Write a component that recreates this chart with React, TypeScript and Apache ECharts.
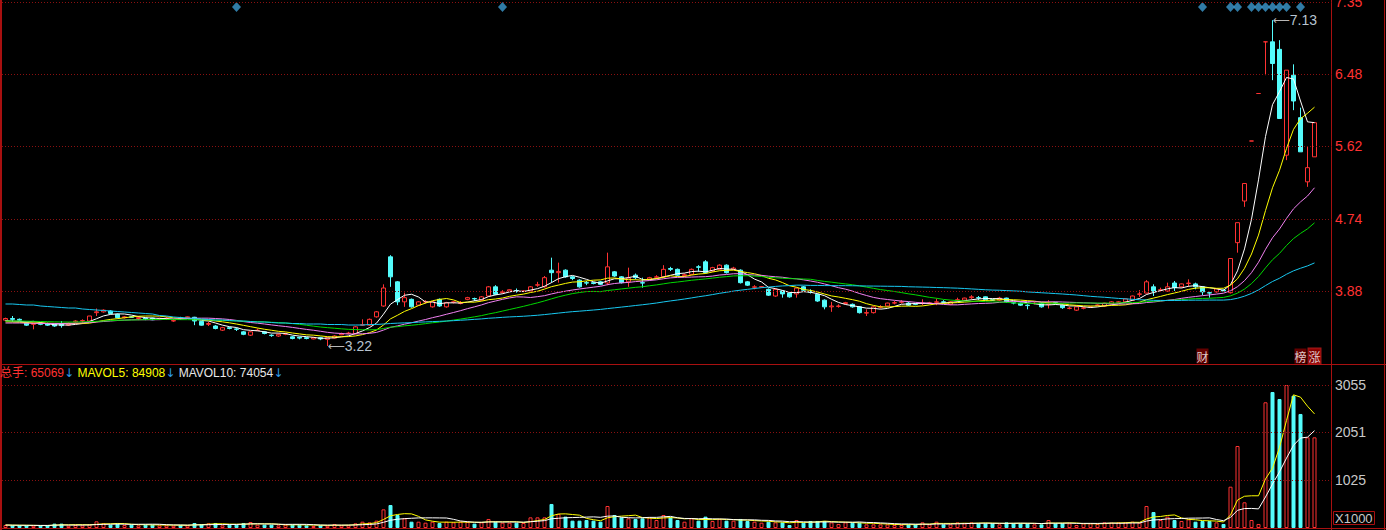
import React, { useEffect, useRef } from 'react';
import * as echarts from 'echarts';

// ---------- data ----------
const opens = [
  3.53, 3.55, 3.54, 3.50, 3.48, 3.49, 3.49, 3.48, 3.48, 3.47,
  3.51, 3.52, 3.52, 3.62, 3.63, 3.64, 3.60, 3.56, 3.57, 3.55,
  3.555, 3.555, 3.548, 3.55, 3.52, 3.56, 3.56, 3.565, 3.515, 3.48,
  3.46, 3.41, 3.44, 3.425, 3.39, 3.35, 3.405, 3.39, 3.35, 3.34,
  3.362, 3.33, 3.325, 3.32, 3.305, 3.32, 3.30, 3.315, 3.355, 3.37,
  3.37, 3.47, 3.47, 3.57, 3.70, 4.29, 3.99, 3.75, 3.78, 3.71,
  3.748, 3.69, 3.78, 3.69, 3.745, 3.73, 3.78, 3.79, 3.77, 3.82,
  3.93, 3.86, 3.88, 3.885, 3.875, 3.88, 3.95, 3.93, 4.13, 4.10,
  4.13, 4.05, 4.01, 3.98, 3.98, 3.99, 3.976, 4.11, 4.05, 3.99,
  4.07, 3.98, 4.02, 4.045, 4.05, 4.15, 4.14, 4.065, 4.08, 4.17,
  4.23, 4.12, 4.14, 4.19, 4.14, 4.13, 3.99, 3.925, 3.928, 3.90,
  3.82, 3.88, 3.855, 3.845, 3.93, 3.87, 3.84, 3.77, 3.69, 3.695,
  3.73, 3.72, 3.69, 3.615, 3.62, 3.685, 3.70, 3.735, 3.745, 3.735,
  3.725, 3.73, 3.733, 3.745, 3.75, 3.72, 3.77, 3.77, 3.80, 3.80,
  3.81, 3.775, 3.77, 3.795, 3.74, 3.735, 3.71, 3.73, 3.735, 3.72,
  3.74, 3.71, 3.67, 3.65, 3.673, 3.685, 3.708, 3.70, 3.725, 3.745,
  3.75, 3.77, 3.84, 3.855, 3.93, 3.89, 3.88, 3.976, 3.93, 3.97,
  3.965, 3.93, 3.86, 3.87, 3.89, 3.86, 4.46, 4.96, 5.68, 6.25,
  6.87, 6.87, 6.78, 5.51, 6.47, 5.96, 5.19, 5.49,
];
const closes = [
  3.55, 3.54, 3.53, 3.47, 3.49, 3.48, 3.47, 3.46, 3.465, 3.48,
  3.52, 3.525, 3.58, 3.63, 3.65, 3.61, 3.56, 3.57, 3.565, 3.56,
  3.545, 3.535, 3.552, 3.555, 3.525, 3.55, 3.57, 3.52, 3.47, 3.49,
  3.43, 3.44, 3.43, 3.42, 3.36, 3.39, 3.41, 3.37, 3.345, 3.36,
  3.366, 3.31, 3.315, 3.31, 3.32, 3.305, 3.32, 3.34, 3.365, 3.375,
  3.45, 3.475, 3.54, 3.63, 3.916, 4.05, 3.75, 3.80, 3.69, 3.75,
  3.752, 3.75, 3.70, 3.74, 3.75, 3.74, 3.80, 3.785, 3.81, 3.93,
  3.84, 3.87, 3.895, 3.88, 3.88, 3.93, 3.955, 4.04, 4.10, 4.115,
  4.05, 4.03, 3.93, 3.975, 3.97, 3.96, 4.17, 4.06, 3.98, 4.035,
  4.04, 3.975, 4.04, 4.05, 4.14, 4.14, 4.07, 4.075, 4.14, 4.165,
  4.10, 4.16, 4.19, 4.10, 4.155, 3.98, 3.95, 3.93, 3.932, 3.83,
  3.90, 3.845, 3.81, 3.915, 3.89, 3.865, 3.76, 3.69, 3.70, 3.70,
  3.74, 3.69, 3.62, 3.62, 3.69, 3.69, 3.735, 3.74, 3.75, 3.71,
  3.72, 3.735, 3.737, 3.75, 3.745, 3.75, 3.775, 3.795, 3.81, 3.795,
  3.775, 3.77, 3.795, 3.75, 3.735, 3.71, 3.705, 3.735, 3.69, 3.725,
  3.735, 3.68, 3.675, 3.69, 3.677, 3.69, 3.712, 3.735, 3.75, 3.75,
  3.785, 3.82, 3.845, 3.99, 3.87, 3.895, 3.93, 3.92, 3.965, 3.975,
  3.93, 3.87, 3.855, 3.905, 3.88, 4.27, 4.70, 5.17, 5.68, 6.25,
  6.87, 6.61, 5.95, 6.53, 6.16, 5.55, 5.36, 5.90,
];
const lows = [
  3.52, 3.51, 3.52, 3.46, 3.42, 3.47, 3.46, 3.45, 3.44, 3.46,
  3.50, 3.49, 3.52, 3.58, 3.62, 3.60, 3.55, 3.55, 3.56, 3.53,
  3.53, 3.53, 3.54, 3.54, 3.51, 3.54, 3.55, 3.47, 3.465, 3.46,
  3.42, 3.40, 3.42, 3.40, 3.35, 3.34, 3.40, 3.36, 3.33, 3.33,
  3.35, 3.30, 3.30, 3.30, 3.30, 3.29, 3.22, 3.31, 3.35, 3.36,
  3.36, 3.46, 3.46, 3.56, 3.69, 3.93, 3.71, 3.69, 3.68, 3.70,
  3.73, 3.68, 3.69, 3.68, 3.73, 3.72, 3.77, 3.76, 3.76, 3.81,
  3.83, 3.85, 3.87, 3.86, 3.87, 3.87, 3.93, 3.92, 3.98, 3.98,
  4.04, 4.01, 3.92, 3.95, 3.96, 3.95, 3.95, 4.05, 3.97, 3.93,
  4.02, 3.92, 4.01, 4.03, 4.04, 4.12, 4.06, 4.05, 4.07, 4.11,
  4.09, 4.11, 4.13, 4.09, 4.13, 3.97, 3.94, 3.90, 3.92, 3.82,
  3.81, 3.80, 3.80, 3.80, 3.88, 3.85, 3.75, 3.66, 3.63, 3.68,
  3.72, 3.68, 3.61, 3.58, 3.61, 3.67, 3.69, 3.72, 3.73, 3.70,
  3.71, 3.71, 3.72, 3.71, 3.73, 3.71, 3.75, 3.76, 3.78, 3.77,
  3.77, 3.76, 3.76, 3.74, 3.72, 3.70, 3.66, 3.72, 3.68, 3.67,
  3.72, 3.665, 3.66, 3.64, 3.66, 3.68, 3.70, 3.69, 3.72, 3.74,
  3.74, 3.76, 3.81, 3.85, 3.82, 3.87, 3.87, 3.88, 3.92, 3.93,
  3.90, 3.83, 3.80, 3.86, 3.87, 3.85, 4.34, 4.89, 5.68, 6.25,
  6.47, 6.41, 5.95, 5.45, 6.05, 5.55, 5.13, 5.49,
];
const highs = [
  3.56, 3.58, 3.55, 3.51, 3.50, 3.50, 3.50, 3.49, 3.52, 3.50,
  3.53, 3.54, 3.58, 3.67, 3.66, 3.65, 3.61, 3.58, 3.58, 3.58,
  3.56, 3.56, 3.56, 3.57, 3.53, 3.57, 3.575, 3.57, 3.52, 3.51,
  3.47, 3.45, 3.45, 3.44, 3.40, 3.40, 3.43, 3.40, 3.36, 3.37,
  3.38, 3.34, 3.33, 3.33, 3.33, 3.33, 3.33, 3.35, 3.38, 3.39,
  3.46, 3.54, 3.55, 3.64, 3.96, 4.31, 4.00, 3.86, 3.79, 3.76,
  3.77, 3.76, 3.79, 3.75, 3.76, 3.76, 3.81, 3.80, 3.82, 3.94,
  3.95, 3.89, 3.90, 3.91, 3.89, 3.94, 3.99, 4.06, 4.28, 4.22,
  4.14, 4.06, 4.02, 4.00, 3.99, 4.00, 4.34, 4.12, 4.06, 4.16,
  4.09, 4.04, 4.05, 4.07, 4.19, 4.17, 4.15, 4.09, 4.15, 4.19,
  4.25, 4.17, 4.20, 4.20, 4.17, 4.14, 4.00, 3.95, 3.94, 3.91,
  3.91, 3.89, 3.86, 3.92, 3.94, 3.90, 3.85, 3.78, 3.75, 3.72,
  3.75, 3.73, 3.70, 3.66, 3.70, 3.71, 3.74, 3.76, 3.77, 3.75,
  3.73, 3.78, 3.75, 3.79, 3.77, 3.76, 3.80, 3.80, 3.83, 3.82,
  3.815, 3.78, 3.81, 3.80, 3.75, 3.74, 3.72, 3.75, 3.74, 3.77,
  3.75, 3.72, 3.69, 3.70, 3.69, 3.70, 3.72, 3.74, 3.76, 3.76,
  3.79, 3.825, 3.89, 4.01, 3.96, 3.92, 3.98, 4.00, 3.97, 4.02,
  3.98, 3.94, 3.87, 3.91, 3.90, 4.27, 4.70, 5.17, 5.68, 6.25,
  6.87, 7.13, 6.89, 6.53, 6.60, 6.08, 5.61, 5.90,
];
// volume in the axis unit (X1000)
const volumes = [
  64, 57, 55, 55, 50, 50, 55, 93, 93, 50,
  64, 57, 78, 143, 100, 71, 93, 64, 71, 57,
  71, 71, 57, 57, 50, 64, 57, 107, 78, 100,
  107, 57, 71, 71, 107, 128, 71, 71, 71, 57,
  71, 71, 71, 57, 43, 57, 50, 85, 57, 57,
  100, 135, 121, 157, 399, 492, 278, 207, 135, 135,
  114, 135, 107, 135, 121, 135, 128, 93, 121, 193,
  135, 114, 114, 114, 107, 228, 228, 228, 514, 300,
  243, 157, 157, 171, 157, 135, 471, 278, 228, 207,
  193, 207, 228, 171, 278, 228, 171, 135, 207, 157,
  243, 150, 193, 157, 157, 193, 150, 135, 114, 135,
  121, 121, 64, 171, 114, 150, 150, 150, 121, 86,
  121, 114, 114, 78, 78, 78, 78, 64, 64, 78,
  78, 121, 78, 135, 78, 78, 121, 100, 121, 100,
  100, 100, 78, 121, 100, 100, 100, 78, 78, 171,
  100, 100, 100, 64, 100, 100, 86, 121, 114, 121,
  121, 135, 114, 471, 342, 171, 243, 171, 150, 185,
  135, 150, 150, 121, 86, 884, 1755, 550, 171, 86,
  2690, 2910, 2760, 3060, 2830, 2440, 1940, 1940,
];
// moving-average values at the start of the window (history before the first bar)
const ma5Head = [3.525, 3.52, 3.515, 3.51];
const ma10Head = [3.51, 3.508, 3.505, 3.50, 3.498, 3.496, 3.494, 3.492, 3.49];
const ma20Head = [
  3.496, 3.496, 3.496, 3.494, 3.492, 3.49, 3.49, 3.49, 3.49, 3.492,
  3.494, 3.498, 3.502, 3.508, 3.514, 3.52, 3.526, 3.53, 3.534,
];
const ma30Head = [
  3.52, 3.52, 3.52, 3.518, 3.516, 3.514, 3.512, 3.51, 3.508, 3.508,
  3.508, 3.51, 3.512, 3.516, 3.52, 3.524, 3.528, 3.53, 3.532, 3.534,
  3.536, 3.538, 3.538, 3.538, 3.538, 3.536, 3.536, 3.535, 3.534,
];
const ma60Head = [
  3.724, 3.724, 3.718, 3.712, 3.712, 3.70, 3.694, 3.688, 3.682, 3.676,
  3.676, 3.664, 3.658, 3.652, 3.646, 3.64, 3.634, 3.628, 3.622, 3.616,
  3.61, 3.604, 3.586, 3.58, 3.568, 3.562, 3.556, 3.55, 3.544, 3.538,
  3.532, 3.532, 3.526, 3.52, 3.52, 3.514, 3.508, 3.508, 3.502, 3.496,
  3.496, 3.49, 3.49, 3.484, 3.484, 3.484, 3.478, 3.478, 3.478, 3.472,
  3.472, 3.472, 3.478, 3.478, 3.484, 3.49, 3.494, 3.498, 3.50,
];
const priceTicks = [3.88, 4.74, 5.62, 6.48, 7.35];
const volumeTicks = [1025, 2051, 3055];
const signalDays = [33, 71, 171, 175, 176, 178, 179, 180, 181, 182, 183, 185];
const tagDays = [171, 185, 187];
const tagTexts = ['财', '榜', '涨'];
const highMark = { day: 181, value: 7.13 };
const lowMark = { day: 46, value: 3.22 };
const legendTexts = { total: '总手: 65069', mavol5: 'MAVOL5: 84908', mavol10: 'MAVOL10: 74054' };
const emptySlots = ['E1', 'E2'];
const categories = [...closes.map((_, i) => 'D' + (i + 1)), ...emptySlots];

// ---------- helpers ----------
function movingAverage(values: number[], n: number, head: number[] | null): (number | null)[] {
  return values.map((_, i) => {
    if (i < n - 1) {
      if (head) return head[i];
      let s = 0;
      for (let k = 0; k <= i; k++) s += values[k];
      return +(s / (i + 1)).toFixed(3);
    }
    let s = 0;
    for (let k = i - n + 1; k <= i; k++) s += values[k];
    return +(s / n).toFixed(3);
  });
}

const RED = '#FF3232';
const CYAN = '#54FCFC';
const FRAME = '#A81010';
const GRIDDOT = '#8A1010';

const PRICE_MIN = 2.992;
const PRICE_MAX = 7.372;
const VOL_MAX = 3488;

export default function App() {
  const ref = useRef<HTMLDivElement>(null);

  useEffect(() => {
    document.body.style.margin = '0';
    document.body.style.background = '#000';
    if (!ref.current) return;
    const chart = echarts.init(ref.current, null, { renderer: 'svg' });

    const candleData = closes.map((c, i) => [opens[i], c, lows[i], highs[i]]);
    const isUp = (i: number) =>
      closes[i] > opens[i] || (closes[i] === opens[i] && (i === 0 || closes[i] >= closes[i - 1]));

    const nulls = categories.map(() => null);

    const maSeries = [
      { name: 'MA5', n: 5, head: ma5Head, color: '#FFFFFF' },
      { name: 'MA10', n: 10, head: ma10Head, color: '#FFFF00' },
      { name: 'MA20', n: 20, head: ma20Head, color: '#F080F0' },
      { name: 'MA30', n: 30, head: ma30Head, color: '#00D800' },
      { name: 'MA60', n: 60, head: ma60Head, color: '#18C8F0' },
    ].map((m) => ({
      name: m.name,
      type: 'line',
      xAxisIndex: 0,
      yAxisIndex: 0,
      data: movingAverage(closes, m.n, m.head),
      symbol: 'none',
      lineStyle: { color: m.color, width: 1 },
      silent: true,
      z: 3,
    }));

    const volData = volumes.map((v, i) => {
      const up = isUp(i);
      return {
        value: v,
        itemStyle: {
          color: up ? '#000000' : CYAN,
          borderColor: up ? RED : CYAN,
          borderWidth: 1,
        },
      };
    });

    const tagLevel = PRICE_MIN + 0.108;
    const signalLevel = PRICE_MAX - 0.085;

    const option: any = {
      animation: false,
      backgroundColor: '#000000',
      title: [
        {
          text:
            '{r|' + legendTexts.total + '}{a|↓} {y|' + legendTexts.mavol5 + '}{a|↓} {w|' +
            legendTexts.mavol10 + '}{a|↓}',
          left: 0,
          top: 367,
          padding: 0,
          textStyle: {
            fontSize: 12,
            fontWeight: 'normal',
            fontFamily: 'Liberation Sans, Noto Sans CJK SC, sans-serif',
            rich: {
              r: { color: RED, fontSize: 12, fontWeight: 'normal', fontFamily: 'Liberation Sans, Noto Sans CJK SC' },
              y: { color: '#FFFF00', fontSize: 12, fontWeight: 'normal', fontFamily: 'Liberation Sans' },
              w: { color: '#E8E8E8', fontSize: 12, fontWeight: 'normal', fontFamily: 'Liberation Sans' },
              a: { color: '#2E9AE6', fontSize: 12, fontWeight: 'normal', fontFamily: 'DejaVu Sans' },
            },
          },
        },
        {
          text: 'X1000',
          left: 1333,
          top: 511,
          padding: [1, 2, 0, 2],
          borderColor: FRAME,
          borderWidth: 1,
          textStyle: { color: '#C8C8C8', fontSize: 13, fontWeight: 'normal', fontFamily: 'Liberation Sans' },
        },
      ],
      grid: [
        { left: 2, right: 54, top: 0, height: 365, outerBoundsMode: 'none' },
        { left: 2, right: 54, top: 365, height: 163, outerBoundsMode: 'none' },
      ],
      xAxis: [
        { type: 'category', gridIndex: 0, data: categories, boundaryGap: true, show: false },
        { type: 'category', gridIndex: 1, data: categories, boundaryGap: true, show: false },
      ],
      yAxis: [
        { type: 'value', gridIndex: 0, min: PRICE_MIN, max: PRICE_MAX, show: false, splitLine: { show: false }, scale: true },
        { type: 'value', gridIndex: 1, min: 0, max: VOL_MAX, show: false, splitLine: { show: false } },
      ],
      graphic: [
        { type: 'line', shape: { x1: 1, y1: 0, x2: 1, y2: 530 }, style: { stroke: FRAME, lineWidth: 2 }, silent: true },
        { type: 'line', shape: { x1: 1331.5, y1: 0, x2: 1331.5, y2: 530 }, style: { stroke: FRAME, lineWidth: 1 }, silent: true },
        { type: 'line', shape: { x1: 1384.5, y1: 0, x2: 1384.5, y2: 530 }, style: { stroke: FRAME, lineWidth: 1 }, silent: true },
        { type: 'line', shape: { x1: 0, y1: 364.5, x2: 1386, y2: 364.5 }, style: { stroke: FRAME, lineWidth: 1 }, silent: true },
        { type: 'line', shape: { x1: 0, y1: 528.5, x2: 1386, y2: 528.5 }, style: { stroke: FRAME, lineWidth: 1 }, silent: true },
      ],
      series: [
        {
          name: 'priceGrid',
          type: 'line',
          xAxisIndex: 0,
          yAxisIndex: 0,
          data: nulls,
          symbol: 'none',
          silent: true,
          z: 1,
          markLine: {
            silent: true,
            symbol: 'none',
            animation: false,
            lineStyle: { color: GRIDDOT, type: [1, 2], width: 1 },
            label: {
              show: true,
              position: 'end',
              distance: 3,
              color: RED,
              fontSize: 14,
              fontFamily: 'Liberation Sans',
              formatter: (p: any) => Number(p.value).toFixed(2),
            },
            data: priceTicks.map((v) => ({ yAxis: v })),
          },
        },
        {
          name: 'K',
          type: 'candlestick',
          xAxisIndex: 0,
          yAxisIndex: 0,
          data: candleData,
          barWidth: 4,
          z: 2,
          itemStyle: {
            color: '#000000',
            color0: CYAN,
            borderColor: RED,
            borderColor0: CYAN,
            borderWidth: 1,
          },
          markPoint: {
            symbol: 'circle',
            symbolSize: 0,
            silent: true,
            animation: false,
            label: {
              show: true,
              position: 'right',
              distance: 0,
              formatter: (p: any) => '{a|⟵}{v|' + Number(p.value).toFixed(2) + '}',
              rich: {
                a: { color: '#B8B8B8', fontSize: 12, fontFamily: 'DejaVu Sans' },
                v: { color: '#B8C4D0', fontSize: 14, fontFamily: 'Liberation Sans' },
              },
            },
            data: [
              { coord: [highMark.day, highMark.value], value: highMark.value },
              { coord: [lowMark.day, lowMark.value], value: lowMark.value },
            ],
          },
        },
        ...maSeries,
        {
          name: 'signals',
          type: 'scatter',
          xAxisIndex: 0,
          yAxisIndex: 0,
          symbol: 'diamond',
          symbolSize: [9, 10],
          itemStyle: { color: '#3C9AD0' },
          silent: true,
          z: 4,
          data: signalDays.map((d) => [d, signalLevel]),
        },
        {
          name: 'tags',
          type: 'scatter',
          xAxisIndex: 0,
          yAxisIndex: 0,
          symbolSize: 0,
          silent: true,
          z: 5,
          data: tagDays.map((d, i) => ({
            value: [d, tagLevel],
            label: {
              backgroundColor: i === 2 ? '#A00000' : '#7C0000',
              borderColor: i === 2 ? '#C02020' : 'transparent',
              borderWidth: i === 2 ? 1 : 0,
            },
          })),
          label: {
            show: true,
            position: 'inside',
            color: '#FFFFFF',
            fontSize: 12,
            fontFamily: 'Noto Sans CJK SC',
            padding: [1, 0, 0, 0],
            lineHeight: 14,
            formatter: (p: any) => tagTexts[p.dataIndex],
          },
        },
        {
          name: 'volGrid',
          type: 'line',
          xAxisIndex: 1,
          yAxisIndex: 1,
          data: nulls,
          symbol: 'none',
          silent: true,
          z: 1,
          markLine: {
            silent: true,
            symbol: 'none',
            animation: false,
            lineStyle: { color: GRIDDOT, type: [1, 2], width: 1 },
            label: {
              show: true,
              position: 'end',
              distance: 3,
              color: '#C8C8C8',
              fontSize: 14,
              fontFamily: 'Liberation Sans',
              formatter: (p: any) => String(Math.round(p.value)),
            },
            data: volumeTicks.map((v) => ({ yAxis: v })),
          },
        },
        {
          name: 'VOL',
          type: 'bar',
          xAxisIndex: 1,
          yAxisIndex: 1,
          data: volData,
          barWidth: 4,
          silent: true,
          z: 2,
        },
        {
          name: 'MAVOL5',
          type: 'line',
          xAxisIndex: 1,
          yAxisIndex: 1,
          data: movingAverage(volumes, 5, null),
          symbol: 'none',
          silent: true,
          lineStyle: { color: '#FFFF00', width: 1 },
          z: 3,
        },
        {
          name: 'MAVOL10',
          type: 'line',
          xAxisIndex: 1,
          yAxisIndex: 1,
          data: movingAverage(volumes, 10, null),
          symbol: 'none',
          silent: true,
          lineStyle: { color: '#FFFFFF', width: 1 },
          z: 3,
        },
      ],
    };

    chart.setOption(option);
    return () => chart.dispose();
  }, []);

  return (
    <div
      ref={ref}
      style={{ position: 'fixed', left: 0, top: 0, width: 1386, height: 530, background: '#000' }}
    />
  );
}
